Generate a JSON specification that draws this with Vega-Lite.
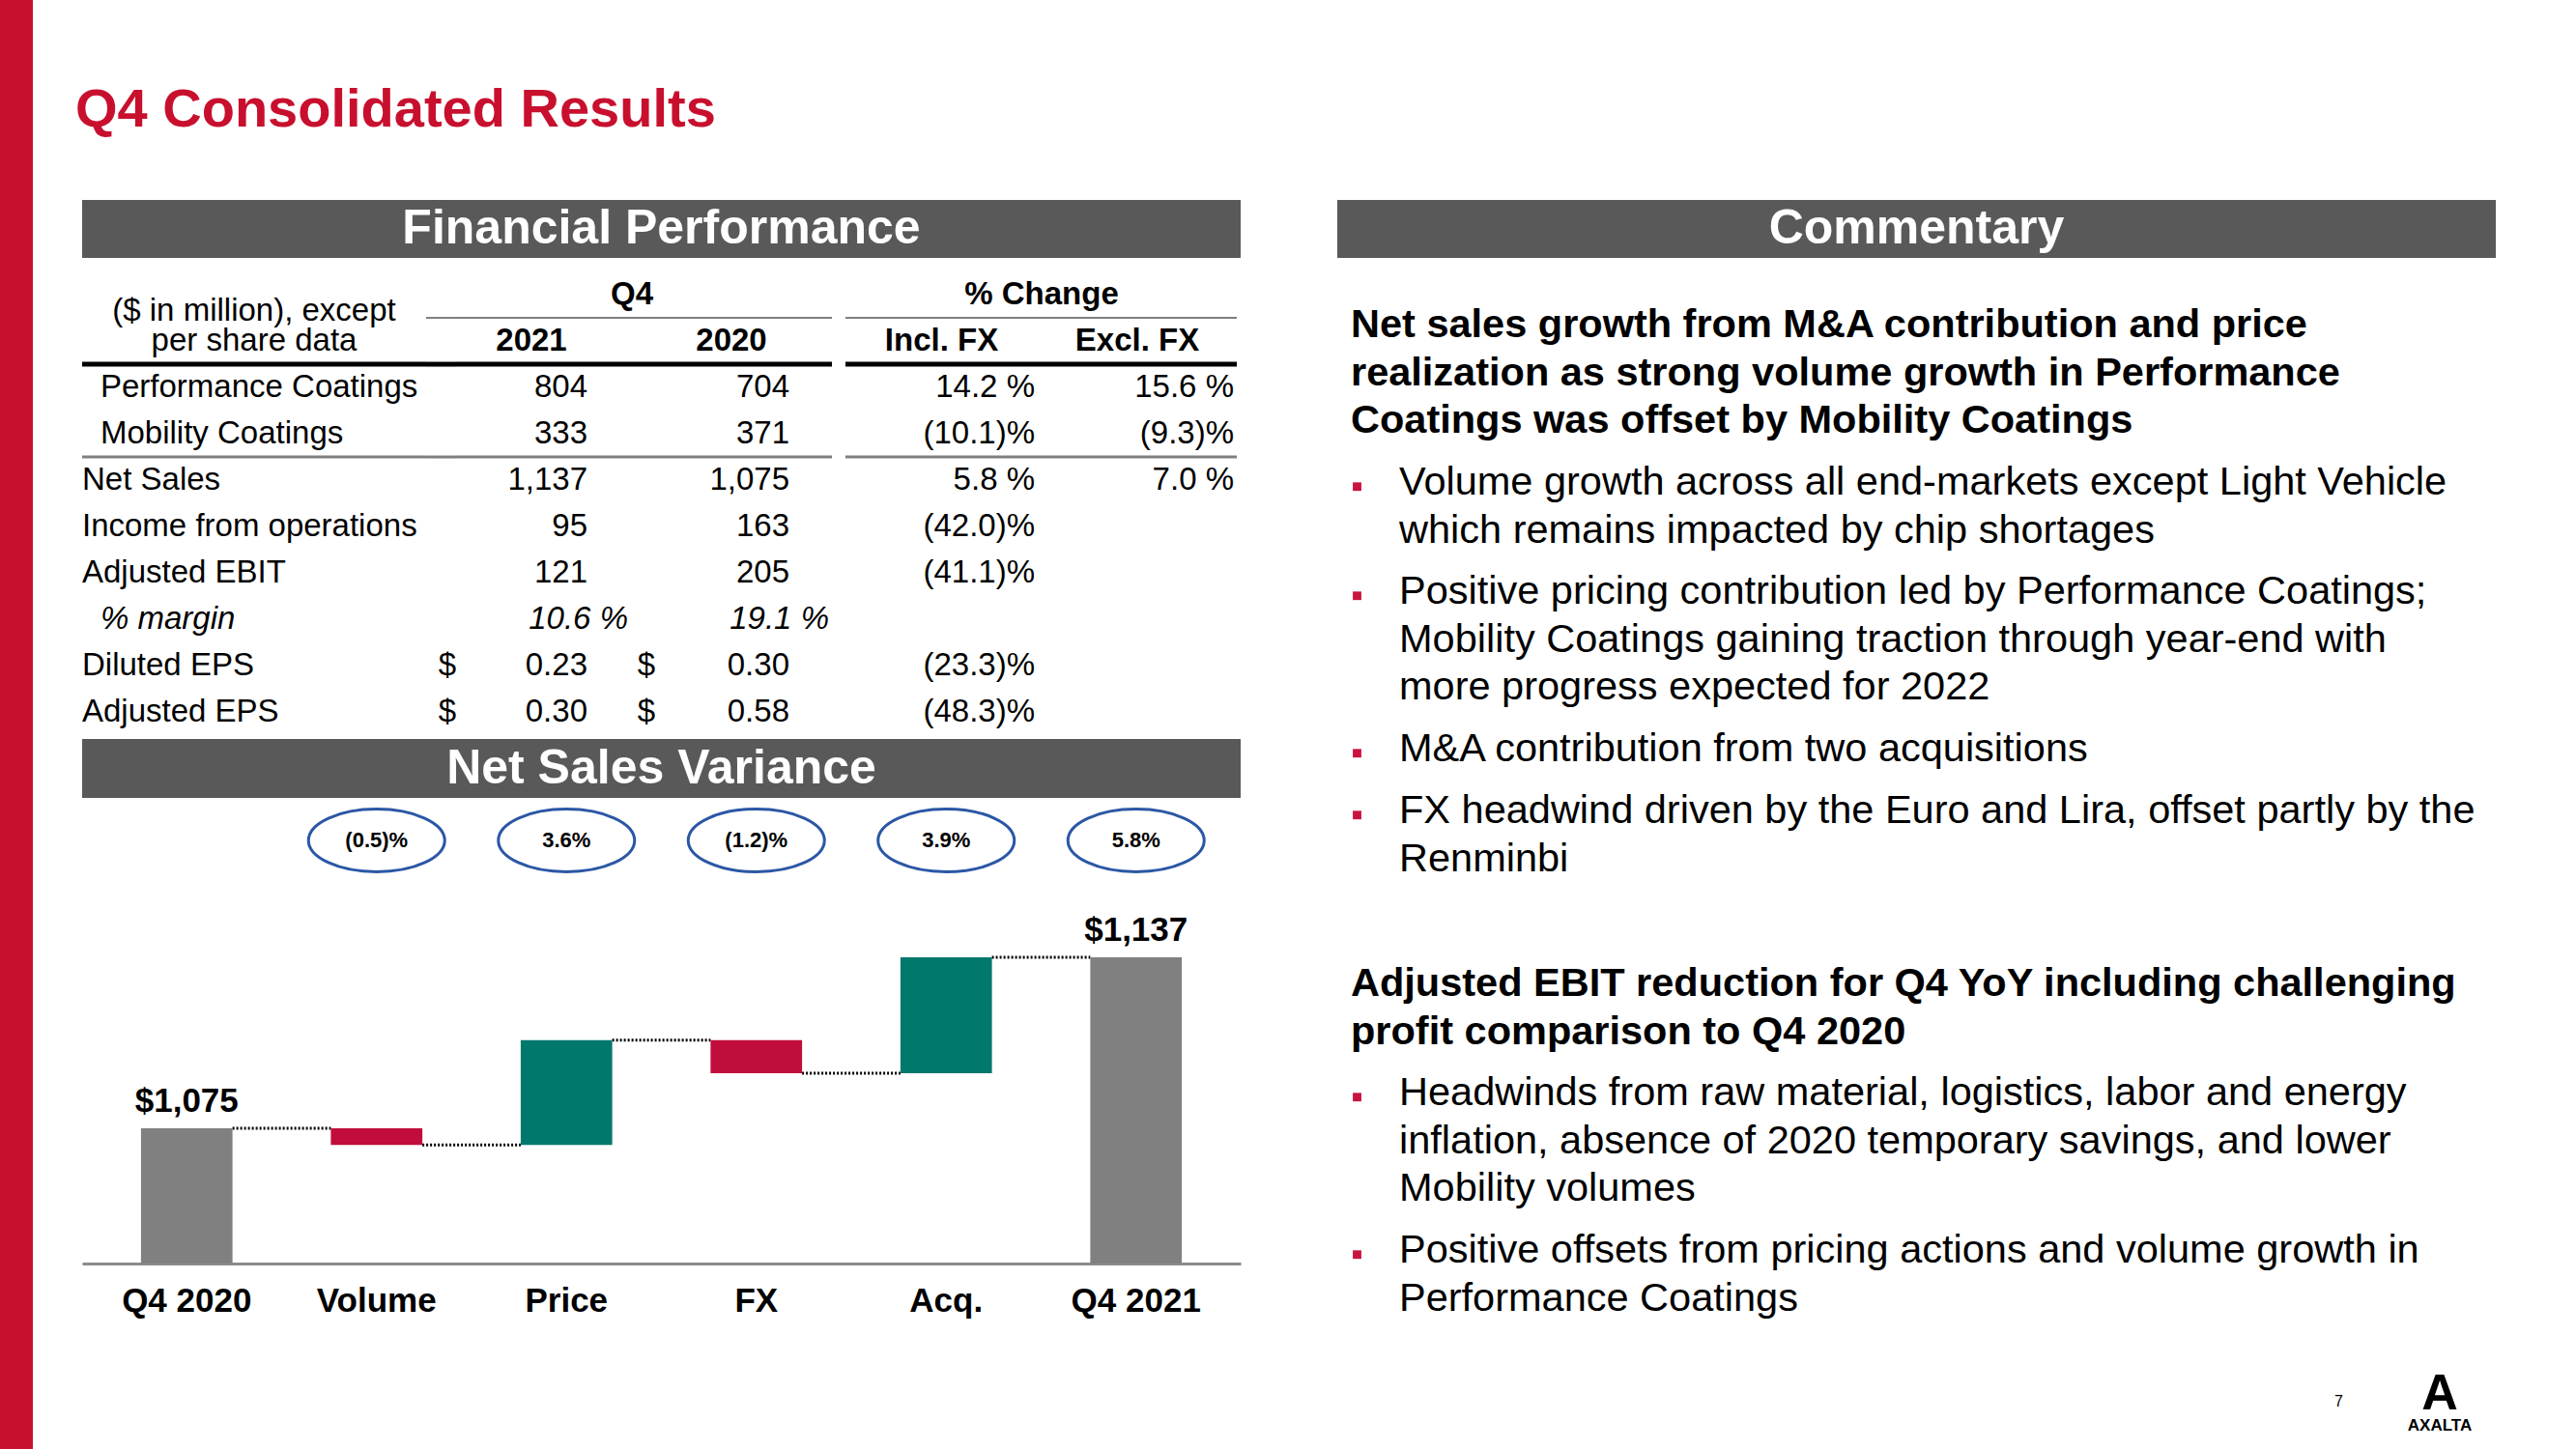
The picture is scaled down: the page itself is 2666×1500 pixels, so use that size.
{
"$schema":"https://vega.github.io/schema/vega-lite/v6.json",
"padding":0,
"background":"#ffffff",
"config":{"font":"Liberation Sans","view":{"stroke":null},"text":{"color":"#000000"}},
"datasets":{
"table":[
{"row":"h1","col":"label","text":"($ in million), except"},
{"row":"h2","col":"label","text":"per share data"},
{"row":"h1","col":"q4","text":"Q4"},
{"row":"h1","col":"pct","text":"% Change"},
{"row":"h2","col":"v21","text":"2021"},
{"row":"h2","col":"v20","text":"2020"},
{"row":"h2","col":"incl","text":"Incl. FX"},
{"row":"h2","col":"excl","text":"Excl. FX"},
{"row":"Performance Coatings","col":"label","text":"Performance Coatings"},
{"row":"Performance Coatings","col":"v21","text":"804"},
{"row":"Performance Coatings","col":"v20","text":"704"},
{"row":"Performance Coatings","col":"incl","text":"14.2 %"},
{"row":"Performance Coatings","col":"excl","text":"15.6 %"},
{"row":"Mobility Coatings","col":"label","text":"Mobility Coatings"},
{"row":"Mobility Coatings","col":"v21","text":"333"},
{"row":"Mobility Coatings","col":"v20","text":"371"},
{"row":"Mobility Coatings","col":"incl","text":"(10.1)%"},
{"row":"Mobility Coatings","col":"excl","text":"(9.3)%"},
{"row":"Net Sales","col":"label","text":"Net Sales"},
{"row":"Net Sales","col":"v21","text":"1,137"},
{"row":"Net Sales","col":"v20","text":"1,075"},
{"row":"Net Sales","col":"incl","text":"5.8 %"},
{"row":"Net Sales","col":"excl","text":"7.0 %"},
{"row":"Income from operations","col":"label","text":"Income from operations"},
{"row":"Income from operations","col":"v21","text":"95"},
{"row":"Income from operations","col":"v20","text":"163"},
{"row":"Income from operations","col":"incl","text":"(42.0)%"},
{"row":"Adjusted EBIT","col":"label","text":"Adjusted EBIT"},
{"row":"Adjusted EBIT","col":"v21","text":"121"},
{"row":"Adjusted EBIT","col":"v20","text":"205"},
{"row":"Adjusted EBIT","col":"incl","text":"(41.1)%"},
{"row":"% margin","col":"label","text":"% margin"},
{"row":"% margin","col":"v21","text":"10.6 %"},
{"row":"% margin","col":"v20","text":"19.1 %"},
{"row":"Diluted EPS","col":"label","text":"Diluted EPS"},
{"row":"Diluted EPS","col":"d21","text":"$"},
{"row":"Diluted EPS","col":"v21","text":"0.23"},
{"row":"Diluted EPS","col":"d20","text":"$"},
{"row":"Diluted EPS","col":"v20","text":"0.30"},
{"row":"Diluted EPS","col":"incl","text":"(23.3)%"},
{"row":"Adjusted EPS","col":"label","text":"Adjusted EPS"},
{"row":"Adjusted EPS","col":"d21","text":"$"},
{"row":"Adjusted EPS","col":"v21","text":"0.30"},
{"row":"Adjusted EPS","col":"d20","text":"$"},
{"row":"Adjusted EPS","col":"v20","text":"0.58"},
{"row":"Adjusted EPS","col":"incl","text":"(48.3)%"}
],
"lines":[{"row":"h1","rule":"underline"},{"row":"h2","rule":"header"},{"row":"Mobility Coatings","rule":"subtotal"}],
"steps":[
{"step":"Q4 2020","kind":"total","end":1075,"label":"$1,075"},
{"step":"Volume","kind":"decrease","start":1075,"end":1069,"pct":"(0.5)%"},
{"step":"Price","kind":"increase","start":1069,"end":1107,"pct":"3.6%"},
{"step":"FX","kind":"decrease","start":1107,"end":1095,"pct":"(1.2)%"},
{"step":"Acq.","kind":"increase","start":1095,"end":1137,"pct":"3.9%"},
{"step":"Q4 2021","kind":"total","end":1137,"label":"$1,137","pct":"5.8%"}
],
"connectors":[
{"from":"Q4 2020","to":"Volume","level":1075},
{"from":"Volume","to":"Price","level":1069},
{"from":"Price","to":"FX","level":1107},
{"from":"FX","to":"Acq.","level":1095},
{"from":"Acq.","to":"Q4 2021","level":1137}
],
"commentary":[
{"para":"h1","text":"Net sales growth from M&A contribution and price\nrealization as strong volume growth in Performance\nCoatings was offset by Mobility Coatings"},
{"para":"b1","text":"Volume growth across all end-markets except Light Vehicle\nwhich remains impacted by chip shortages"},
{"para":"b2","text":"Positive pricing contribution led by Performance Coatings;\nMobility Coatings gaining traction through year-end with\nmore progress expected for 2022"},
{"para":"b3","text":"M&A contribution from two acquisitions"},
{"para":"b4","text":"FX headwind driven by the Euro and Lira, offset partly by the\nRenminbi"},
{"para":"h2","text":"Adjusted EBIT reduction for Q4 YoY including challenging\nprofit comparison to Q4 2020"},
{"para":"b5","text":"Headwinds from raw material, logistics, labor and energy\ninflation, absence of 2020 temporary savings, and lower\nMobility volumes"},
{"para":"b6","text":"Positive offsets from pricing actions and volume growth in\nPerformance Coatings"}
]
},
"hconcat":[
{"width":34,"height":1500,"view":{"fill":"#C8102E","stroke":null},"data":{"values":[{"part":"stripe"}]},"mark":{"type":"rect","color":"#C8102E"},"encoding":{}},
{"vconcat":[
 {"width":1199,"height":143,"data":{"values":[{"title":"Q4 Consolidated Results"}]},"mark":{"type":"text","align":"left","baseline":"bottom","fontSize":56,"fontWeight":"bold","color":"#C8102E","dx":-7},"encoding":{"x":{"value":0},"y":{"value":"height"},"text":{"field":"title"}}},
 {"hconcat":[
  {"vconcat":[
   {"width":1199,"height":60,"view":{"fill":"#595959","stroke":null},"data":{"values":[{"heading":"Financial Performance"}]},"mark":{"type":"text","color":"#ffffff","fontSize":50,"fontWeight":"bold","baseline":"middle"},"encoding":{"text":{"field":"heading"}}},
   {"hconcat":[
    {"hconcat":[
     {"width":356,"height":498,"layer":[
      {"data":{"name":"lines"},"transform":[{"filter":"datum.rule=='header'"}],"mark":{"type":"rule","color":"#000000","strokeWidth":5},"encoding":{"y":{"field":"row","type":"nominal","axis":null,"bandPosition":1,"scale":{"type":"band","domain":["h1","h2","Performance Coatings","Mobility Coatings","Net Sales","Income from operations","Adjusted EBIT","% margin","Diluted EPS","Adjusted EPS"],"paddingInner":0,"paddingOuter":0.1875,"align":0.78}}}},
      {"data":{"name":"lines"},"transform":[{"filter":"datum.rule=='subtotal'"}],"mark":{"type":"rule","color":"#7F7F7F","strokeWidth":3},"encoding":{"y":{"field":"row","type":"nominal","axis":null,"bandPosition":1}}},
      {"data":{"name":"table"},"transform":[{"filter":"datum.col=='label' && datum.row=='h1'"}],"mark":{"type":"text","fontSize":33,"dy":17},"encoding":{"y":{"field":"row","type":"nominal","axis":null},"text":{"field":"text"}}},
      {"data":{"name":"table"},"transform":[{"filter":"datum.col=='label' && datum.row=='h2'"}],"mark":{"type":"text","fontSize":33},"encoding":{"y":{"field":"row","type":"nominal","axis":null},"text":{"field":"text"}}},
      {"data":{"name":"table"},"transform":[{"filter":"datum.col=='label' && indexof(['Net Sales','Income from operations','Adjusted EBIT','Diluted EPS','Adjusted EPS'],datum.row)>=0"}],"mark":{"type":"text","fontSize":33,"align":"left"},"encoding":{"x":{"value":0},"y":{"field":"row","type":"nominal","axis":null},"text":{"field":"text"}}},
      {"data":{"name":"table"},"transform":[{"filter":"datum.col=='label' && (datum.row=='Performance Coatings' || datum.row=='Mobility Coatings')"}],"mark":{"type":"text","fontSize":33,"align":"left","dx":19},"encoding":{"x":{"value":0},"y":{"field":"row","type":"nominal","axis":null},"text":{"field":"text"}}},
      {"data":{"name":"table"},"transform":[{"filter":"datum.col=='label' && datum.row=='% margin'"}],"mark":{"type":"text","fontSize":33,"align":"left","dx":19,"fontStyle":"italic"},"encoding":{"x":{"value":0},"y":{"field":"row","type":"nominal","axis":null},"text":{"field":"text"}}}
     ]},
     {"width":31,"height":498,"layer":[
      {"data":{"name":"lines"},"transform":[{"filter":"datum.rule=='header'"}],"mark":{"type":"rule","color":"#000000","strokeWidth":5},"encoding":{"y":{"field":"row","type":"nominal","axis":null,"bandPosition":1,"scale":{"type":"band","domain":["h1","h2","Performance Coatings","Mobility Coatings","Net Sales","Income from operations","Adjusted EBIT","% margin","Diluted EPS","Adjusted EPS"],"paddingInner":0,"paddingOuter":0.1875,"align":0.78}}}},
      {"data":{"name":"lines"},"transform":[{"filter":"datum.rule=='subtotal'"}],"mark":{"type":"rule","color":"#7F7F7F","strokeWidth":3},"encoding":{"y":{"field":"row","type":"nominal","axis":null,"bandPosition":1}}},
      {"data":{"name":"lines"},"transform":[{"filter":"datum.rule=='underline'"}],"mark":{"type":"rule","color":"#7F7F7F","strokeWidth":2},"encoding":{"y":{"field":"row","type":"nominal","axis":null,"bandPosition":1}}},
      {"data":{"name":"table"},"transform":[{"filter":"datum.col=='d21'"}],"mark":{"type":"text","fontSize":33,"align":"right"},"encoding":{"x":{"value":"width"},"y":{"field":"row","type":"nominal","axis":null},"text":{"field":"text"}}}
     ]},
     {"width":136,"height":498,"layer":[
      {"data":{"name":"lines"},"transform":[{"filter":"datum.rule=='header'"}],"mark":{"type":"rule","color":"#000000","strokeWidth":5},"encoding":{"y":{"field":"row","type":"nominal","axis":null,"bandPosition":1,"scale":{"type":"band","domain":["h1","h2","Performance Coatings","Mobility Coatings","Net Sales","Income from operations","Adjusted EBIT","% margin","Diluted EPS","Adjusted EPS"],"paddingInner":0,"paddingOuter":0.1875,"align":0.78}}}},
      {"data":{"name":"lines"},"transform":[{"filter":"datum.rule=='subtotal'"}],"mark":{"type":"rule","color":"#7F7F7F","strokeWidth":3},"encoding":{"y":{"field":"row","type":"nominal","axis":null,"bandPosition":1}}},
      {"data":{"name":"lines"},"transform":[{"filter":"datum.rule=='underline'"}],"mark":{"type":"rule","color":"#7F7F7F","strokeWidth":2},"encoding":{"y":{"field":"row","type":"nominal","axis":null,"bandPosition":1}}},
      {"data":{"name":"table"},"transform":[{"filter":"datum.col=='v21' && datum.row=='h2'"}],"mark":{"type":"text","fontSize":33,"fontWeight":"bold","dx":10},"encoding":{"y":{"field":"row","type":"nominal","axis":null},"text":{"field":"text"}}},
      {"data":{"name":"table"},"transform":[{"filter":"datum.col=='v21' && datum.row!='h2' && datum.row!='% margin'"}],"mark":{"type":"text","fontSize":33,"align":"right"},"encoding":{"x":{"value":"width"},"y":{"field":"row","type":"nominal","axis":null},"text":{"field":"text"}}},
      {"data":{"name":"table"},"transform":[{"filter":"datum.col=='v21' && datum.row=='% margin'"}],"mark":{"type":"text","fontSize":33,"align":"right","fontStyle":"italic","dx":42},"encoding":{"x":{"value":"width"},"y":{"field":"row","type":"nominal","axis":null},"text":{"field":"text"}}}
     ]},
     {"width":70,"height":498,"layer":[
      {"data":{"name":"lines"},"transform":[{"filter":"datum.rule=='header'"}],"mark":{"type":"rule","color":"#000000","strokeWidth":5},"encoding":{"y":{"field":"row","type":"nominal","axis":null,"bandPosition":1,"scale":{"type":"band","domain":["h1","h2","Performance Coatings","Mobility Coatings","Net Sales","Income from operations","Adjusted EBIT","% margin","Diluted EPS","Adjusted EPS"],"paddingInner":0,"paddingOuter":0.1875,"align":0.78}}}},
      {"data":{"name":"lines"},"transform":[{"filter":"datum.rule=='subtotal'"}],"mark":{"type":"rule","color":"#7F7F7F","strokeWidth":3},"encoding":{"y":{"field":"row","type":"nominal","axis":null,"bandPosition":1}}},
      {"data":{"name":"lines"},"transform":[{"filter":"datum.rule=='underline'"}],"mark":{"type":"rule","color":"#7F7F7F","strokeWidth":2},"encoding":{"y":{"field":"row","type":"nominal","axis":null,"bandPosition":1}}},
      {"data":{"name":"table"},"transform":[{"filter":"datum.col=='q4'"}],"mark":{"type":"text","fontSize":33,"fontWeight":"bold","dx":11},"encoding":{"y":{"field":"row","type":"nominal","axis":null},"text":{"field":"text"}}},
      {"data":{"name":"table"},"transform":[{"filter":"datum.col=='d20'"}],"mark":{"type":"text","fontSize":33,"align":"right"},"encoding":{"x":{"value":"width"},"y":{"field":"row","type":"nominal","axis":null},"text":{"field":"text"}}}
     ]},
     {"width":139,"height":498,"layer":[
      {"data":{"name":"lines"},"transform":[{"filter":"datum.rule=='header'"}],"mark":{"type":"rule","color":"#000000","strokeWidth":5},"encoding":{"y":{"field":"row","type":"nominal","axis":null,"bandPosition":1,"scale":{"type":"band","domain":["h1","h2","Performance Coatings","Mobility Coatings","Net Sales","Income from operations","Adjusted EBIT","% margin","Diluted EPS","Adjusted EPS"],"paddingInner":0,"paddingOuter":0.1875,"align":0.78}}}},
      {"data":{"name":"lines"},"transform":[{"filter":"datum.rule=='subtotal'"}],"mark":{"type":"rule","color":"#7F7F7F","strokeWidth":3},"encoding":{"y":{"field":"row","type":"nominal","axis":null,"bandPosition":1}}},
      {"data":{"name":"lines"},"transform":[{"filter":"datum.rule=='underline'"}],"mark":{"type":"rule","color":"#7F7F7F","strokeWidth":2},"encoding":{"y":{"field":"row","type":"nominal","axis":null,"bandPosition":1}}},
      {"data":{"name":"table"},"transform":[{"filter":"datum.col=='v20' && datum.row=='h2'"}],"mark":{"type":"text","fontSize":33,"fontWeight":"bold","dx":9.5},"encoding":{"y":{"field":"row","type":"nominal","axis":null},"text":{"field":"text"}}},
      {"data":{"name":"table"},"transform":[{"filter":"datum.col=='v20' && datum.row!='h2' && datum.row!='% margin'"}],"mark":{"type":"text","fontSize":33,"align":"right"},"encoding":{"x":{"value":"width"},"y":{"field":"row","type":"nominal","axis":null},"text":{"field":"text"}}},
      {"data":{"name":"table"},"transform":[{"filter":"datum.col=='v20' && datum.row=='% margin'"}],"mark":{"type":"text","fontSize":33,"align":"right","fontStyle":"italic","dx":41},"encoding":{"x":{"value":"width"},"y":{"field":"row","type":"nominal","axis":null},"text":{"field":"text"}}}
     ]},
     {"width":44,"height":498,"layer":[
      {"data":{"name":"lines"},"transform":[{"filter":"datum.rule=='header'"}],"mark":{"type":"rule","color":"#000000","strokeWidth":5},"encoding":{"y":{"field":"row","type":"nominal","axis":null,"bandPosition":1,"scale":{"type":"band","domain":["h1","h2","Performance Coatings","Mobility Coatings","Net Sales","Income from operations","Adjusted EBIT","% margin","Diluted EPS","Adjusted EPS"],"paddingInner":0,"paddingOuter":0.1875,"align":0.78}}}},
      {"data":{"name":"lines"},"transform":[{"filter":"datum.rule=='subtotal'"}],"mark":{"type":"rule","color":"#7F7F7F","strokeWidth":3},"encoding":{"y":{"field":"row","type":"nominal","axis":null,"bandPosition":1}}},
      {"data":{"name":"lines"},"transform":[{"filter":"datum.rule=='underline'"}],"mark":{"type":"rule","color":"#7F7F7F","strokeWidth":2},"encoding":{"y":{"field":"row","type":"nominal","axis":null,"bandPosition":1}}}
     ]}
    ],"spacing":0,"bounds":"flush"},
    {"hconcat":[
     {"width":199,"height":498,"layer":[
      {"data":{"name":"lines"},"transform":[{"filter":"datum.rule=='header'"}],"mark":{"type":"rule","color":"#000000","strokeWidth":5},"encoding":{"y":{"field":"row","type":"nominal","axis":null,"bandPosition":1,"scale":{"type":"band","domain":["h1","h2","Performance Coatings","Mobility Coatings","Net Sales","Income from operations","Adjusted EBIT","% margin","Diluted EPS","Adjusted EPS"],"paddingInner":0,"paddingOuter":0.1875,"align":0.78}}}},
      {"data":{"name":"lines"},"transform":[{"filter":"datum.rule=='subtotal'"}],"mark":{"type":"rule","color":"#7F7F7F","strokeWidth":3},"encoding":{"y":{"field":"row","type":"nominal","axis":null,"bandPosition":1}}},
      {"data":{"name":"lines"},"transform":[{"filter":"datum.rule=='underline'"}],"mark":{"type":"rule","color":"#7F7F7F","strokeWidth":2},"encoding":{"y":{"field":"row","type":"nominal","axis":null,"bandPosition":1}}},
      {"data":{"name":"table"},"transform":[{"filter":"datum.col=='pct'"}],"mark":{"type":"text","fontSize":33,"fontWeight":"bold","align":"center","dx":4},"encoding":{"x":{"value":"width"},"y":{"field":"row","type":"nominal","axis":null},"text":{"field":"text"}}},
      {"data":{"name":"table"},"transform":[{"filter":"datum.col=='incl' && datum.row=='h2'"}],"mark":{"type":"text","fontSize":33,"fontWeight":"bold"},"encoding":{"y":{"field":"row","type":"nominal","axis":null},"text":{"field":"text"}}},
      {"data":{"name":"table"},"transform":[{"filter":"datum.col=='incl' && datum.row!='h2'"}],"mark":{"type":"text","fontSize":33,"align":"right","dx":-3},"encoding":{"x":{"value":"width"},"y":{"field":"row","type":"nominal","axis":null},"text":{"field":"text"}}}
     ]},
     {"width":206,"height":498,"layer":[
      {"data":{"name":"lines"},"transform":[{"filter":"datum.rule=='header'"}],"mark":{"type":"rule","color":"#000000","strokeWidth":5},"encoding":{"y":{"field":"row","type":"nominal","axis":null,"bandPosition":1,"scale":{"type":"band","domain":["h1","h2","Performance Coatings","Mobility Coatings","Net Sales","Income from operations","Adjusted EBIT","% margin","Diluted EPS","Adjusted EPS"],"paddingInner":0,"paddingOuter":0.1875,"align":0.78}}}},
      {"data":{"name":"lines"},"transform":[{"filter":"datum.rule=='subtotal'"}],"mark":{"type":"rule","color":"#7F7F7F","strokeWidth":3},"encoding":{"y":{"field":"row","type":"nominal","axis":null,"bandPosition":1}}},
      {"data":{"name":"lines"},"transform":[{"filter":"datum.rule=='underline'"}],"mark":{"type":"rule","color":"#7F7F7F","strokeWidth":2},"encoding":{"y":{"field":"row","type":"nominal","axis":null,"bandPosition":1}}},
      {"data":{"name":"table"},"transform":[{"filter":"datum.col=='excl' && datum.row=='h2'"}],"mark":{"type":"text","fontSize":33,"fontWeight":"bold"},"encoding":{"y":{"field":"row","type":"nominal","axis":null},"text":{"field":"text"}}},
      {"data":{"name":"table"},"transform":[{"filter":"datum.col=='excl' && datum.row!='h2'"}],"mark":{"type":"text","fontSize":33,"align":"right","dx":-3},"encoding":{"x":{"value":"width"},"y":{"field":"row","type":"nominal","axis":null},"text":{"field":"text"}}}
     ]}
    ],"spacing":0,"bounds":"flush"}
   ],"spacing":8},
   {"width":1199,"height":61,"view":{"fill":"#595959","stroke":null},"data":{"values":[{"heading":"Net Sales Variance"}]},"mark":{"type":"text","color":"#ffffff","fontSize":50,"fontWeight":"bold","baseline":"middle"},"encoding":{"text":{"field":"heading"}}},
   {"width":1199,"height":88,"data":{"name":"steps"},"transform":[{"filter":"datum.pct != null"}],
    "encoding":{"x":{"field":"step","type":"nominal","axis":null,"sort":null,"scale":{"type":"band","domain":["Q4 2020","Volume","Price","FX","Acq.","Q4 2021"],"paddingInner":0.518,"paddingOuter":0.31}}},
    "layer":[
     {"mark":{"type":"point","shape":"M-1,0C-1,-0.2546,-0.5523,-0.461,0,-0.461C0.5523,-0.461,1,-0.2546,1,0C1,0.2546,0.5523,0.461,0,0.461C-0.5523,0.461,-1,0.2546,-1,0Z","size":19881,"filled":false,"color":"#2B57A5","strokeWidth":3,"opacity":1}},
     {"mark":{"type":"text","fontSize":22,"fontWeight":"bold","baseline":"middle"},"encoding":{"text":{"field":"pct"}}}
    ]},
   {"width":1199,"height":394,"layer":[
     {"data":{"name":"connectors"},"mark":{"type":"rule","color":"#000000","strokeWidth":3,"strokeDash":[2,2]},
      "encoding":{"x":{"field":"from","type":"nominal","bandPosition":1,"sort":null,"scale":{"type":"band","domain":["Q4 2020","Volume","Price","FX","Acq.","Q4 2021"],"paddingInner":0.518,"paddingOuter":0.31},"axis":{"title":null,"labelAngle":0,"labelFontSize":35,"labelFontWeight":"bold","labelColor":"#000000","ticks":false,"domainColor":"#8C8C8C","domainWidth":3,"labelPadding":21,"grid":false}},
       "x2":{"field":"to","bandPosition":0},
       "y":{"field":"level","type":"quantitative","scale":{"domain":[1026,1164],"zero":false,"nice":false,"clamp":true},"axis":null}}},
     {"data":{"name":"steps"},"transform":[{"filter":"datum.kind != 'total'"}],"mark":{"type":"bar"},
      "encoding":{"x":{"field":"step","type":"nominal","sort":null,"axis":{"title":null,"labelAngle":0,"labelFontSize":35,"labelFontWeight":"bold","labelColor":"#000000","ticks":false,"domainColor":"#8C8C8C","domainWidth":3,"labelPadding":21,"grid":false}},
       "y":{"field":"start","type":"quantitative","axis":null},"y2":{"field":"end"},
       "color":{"field":"kind","type":"nominal","legend":null,"scale":{"domain":["total","increase","decrease"],"range":["#808080","#00786C","#C00D3B"]}}}},
     {"data":{"name":"steps"},"transform":[{"filter":"datum.kind == 'total'"}],"mark":{"type":"bar"},
      "encoding":{"x":{"field":"step","type":"nominal","sort":null},
       "y":{"field":"end","type":"quantitative","axis":null},
       "color":{"field":"kind","type":"nominal","legend":null}}},
     {"data":{"name":"steps"},"transform":[{"filter":"datum.kind == 'total'"}],"mark":{"type":"text","fontSize":35,"fontWeight":"bold","baseline":"bottom","dy":-10},
      "encoding":{"x":{"field":"step","type":"nominal","sort":null},
       "y":{"field":"end","type":"quantitative","axis":null},
       "text":{"field":"label"}}}
   ]}
  ],"spacing":0},
  {"vconcat":[
   {"width":1199,"height":60,"view":{"fill":"#595959","stroke":null},"data":{"values":[{"heading":"Commentary"}]},"mark":{"type":"text","color":"#ffffff","fontSize":50,"fontWeight":"bold","baseline":"middle"},"encoding":{"text":{"field":"heading"}}},
   {"hconcat":[
    {"width":1,"height":1,"data":{"values":[{"blank":""}]},"mark":{"type":"text"},"encoding":{"text":{"field":"blank"}}},
    {"vconcat":[
     {"width":1185,"height":148.5,"data":{"name":"commentary"},"transform":[{"filter":"datum.para=='h1'"}],"mark":{"type":"text","align":"left","baseline":"top","fontSize":41.5,"fontWeight":"bold","lineBreak":"\n","lineHeight":49.5},"encoding":{"x":{"value":0},"y":{"value":0},"text":{"field":"text"}}},
     {"hconcat":[
      {"width":13,"height":49.5,"data":{"name":"commentary"},"transform":[{"filter":"datum.para=='b1'"}],"mark":{"type":"square","size":78,"color":"#C8143C","opacity":1},"encoding":{}},
      {"width":1135,"height":99,"data":{"name":"commentary"},"transform":[{"filter":"datum.para=='b1'"}],"mark":{"type":"text","align":"left","baseline":"top","fontSize":41.5,"lineBreak":"\n","lineHeight":49.5},"encoding":{"x":{"value":0},"y":{"value":0},"text":{"field":"text"}}}
     ],"spacing":37},
     {"hconcat":[
      {"width":13,"height":49.5,"data":{"name":"commentary"},"transform":[{"filter":"datum.para=='b2'"}],"mark":{"type":"square","size":78,"color":"#C8143C","opacity":1},"encoding":{}},
      {"width":1135,"height":148.5,"data":{"name":"commentary"},"transform":[{"filter":"datum.para=='b2'"}],"mark":{"type":"text","align":"left","baseline":"top","fontSize":41.5,"lineBreak":"\n","lineHeight":49.5},"encoding":{"x":{"value":0},"y":{"value":0},"text":{"field":"text"}}}
     ],"spacing":37},
     {"hconcat":[
      {"width":13,"height":49.5,"data":{"name":"commentary"},"transform":[{"filter":"datum.para=='b3'"}],"mark":{"type":"square","size":78,"color":"#C8143C","opacity":1},"encoding":{}},
      {"width":1135,"height":49.5,"data":{"name":"commentary"},"transform":[{"filter":"datum.para=='b3'"}],"mark":{"type":"text","align":"left","baseline":"top","fontSize":41.5,"lineBreak":"\n","lineHeight":49.5},"encoding":{"x":{"value":0},"y":{"value":0},"text":{"field":"text"}}}
     ],"spacing":37},
     {"hconcat":[
      {"width":13,"height":49.5,"data":{"name":"commentary"},"transform":[{"filter":"datum.para=='b4'"}],"mark":{"type":"square","size":78,"color":"#C8143C","opacity":1},"encoding":{}},
      {"width":1135,"height":99,"data":{"name":"commentary"},"transform":[{"filter":"datum.para=='b4'"}],"mark":{"type":"text","align":"left","baseline":"top","fontSize":41.5,"lineBreak":"\n","lineHeight":49.5},"encoding":{"x":{"value":0},"y":{"value":0},"text":{"field":"text"}}}
     ],"spacing":37},
     {"width":1,"height":52,"data":{"values":[{"blank":""}]},"mark":{"type":"text"},"encoding":{"text":{"field":"blank"}}},
     {"width":1185,"height":99,"data":{"name":"commentary"},"transform":[{"filter":"datum.para=='h2'"}],"mark":{"type":"text","align":"left","baseline":"top","fontSize":41.5,"fontWeight":"bold","lineBreak":"\n","lineHeight":49.5},"encoding":{"x":{"value":0},"y":{"value":0},"text":{"field":"text"}}},
     {"hconcat":[
      {"width":13,"height":49.5,"data":{"name":"commentary"},"transform":[{"filter":"datum.para=='b5'"}],"mark":{"type":"square","size":78,"color":"#C8143C","opacity":1},"encoding":{}},
      {"width":1135,"height":148.5,"data":{"name":"commentary"},"transform":[{"filter":"datum.para=='b5'"}],"mark":{"type":"text","align":"left","baseline":"top","fontSize":41.5,"lineBreak":"\n","lineHeight":49.5},"encoding":{"x":{"value":0},"y":{"value":0},"text":{"field":"text"}}}
     ],"spacing":37},
     {"hconcat":[
      {"width":13,"height":49.5,"data":{"name":"commentary"},"transform":[{"filter":"datum.para=='b6'"}],"mark":{"type":"square","size":78,"color":"#C8143C","opacity":1},"encoding":{}},
      {"width":1135,"height":99,"data":{"name":"commentary"},"transform":[{"filter":"datum.para=='b6'"}],"mark":{"type":"text","align":"left","baseline":"top","fontSize":41.5,"lineBreak":"\n","lineHeight":49.5},"encoding":{"x":{"value":0},"y":{"value":0},"text":{"field":"text"}}}
     ],"spacing":37}
    ],"spacing":14}
   ],"spacing":13},
   {"hconcat":[
    {"width":1041,"height":70,"data":{"values":[{"page":"7"}]},"mark":{"type":"text","align":"right","baseline":"middle","fontSize":16},"encoding":{"x":{"value":"width"},"text":{"field":"page"}}},
    {"width":78,"height":70,"data":{"values":[{"part":"symbol","text":"A"},{"part":"wordmark","text":"AXALTA"}]},"layer":[
     {"transform":[{"filter":"datum.part=='symbol'"}],"mark":{"type":"text","fontSize":52,"fontWeight":"bold","baseline":"middle"},"encoding":{"y":{"field":"part","type":"nominal","axis":null,"scale":{"type":"point","domain":["symbol","wordmark"],"padding":0.56,"align":0.73}},"text":{"field":"text"}}},
     {"transform":[{"filter":"datum.part=='wordmark'"}],"mark":{"type":"text","fontSize":17,"fontWeight":"bold","baseline":"middle"},"encoding":{"y":{"field":"part","type":"nominal","axis":null},"text":{"field":"text"}}}
    ]}
   ],"spacing":61}
  ],"spacing":43}
 ],"spacing":100}
],"spacing":64}
],
"spacing":44
}
